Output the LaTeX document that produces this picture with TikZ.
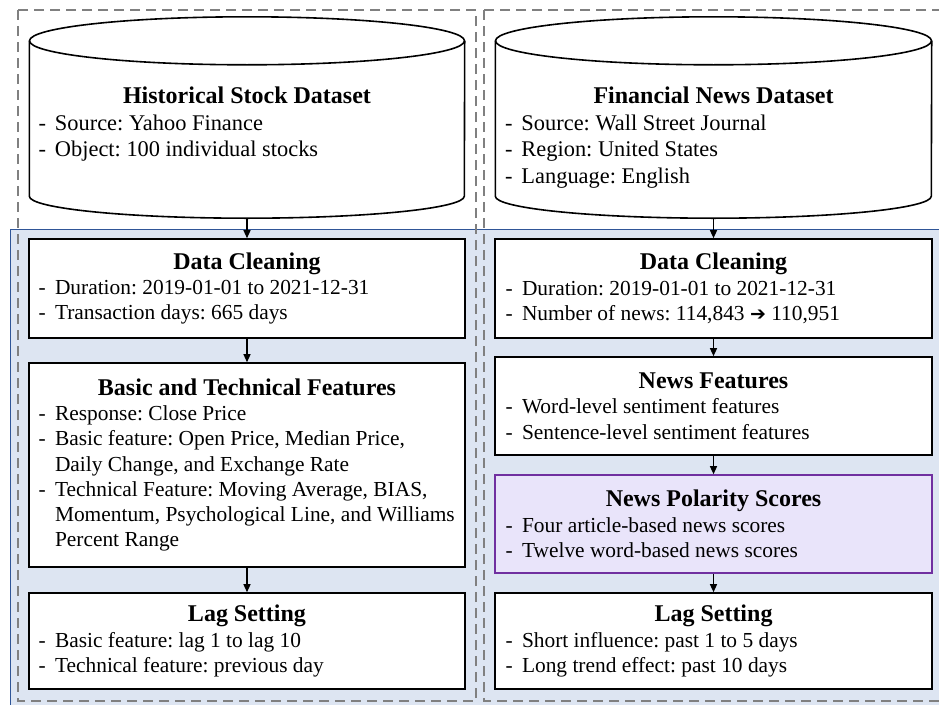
\documentclass[tikz,border=0pt]{standalone}
\usepackage{fontspec}
\setmainfont{Liberation Serif}
\newfontfamily\symfont{DejaVu Sans}
\usetikzlibrary{arrows.meta}
\definecolor{panelfill}{RGB}{221,229,242}
\definecolor{panelborder}{RGB}{47,85,151}
\definecolor{dashgray}{RGB}{128,128,128}
\definecolor{polfill}{RGB}{233,228,250}
\definecolor{polborder}{RGB}{112,48,160}
\frenchspacing
\newcommand{\ttl}[1]{\makebox[\hsize][c]{\fontsize{24}{27}\selectfont\bfseries #1}}
\newcommand{\itm}{\makebox[16.5pt][l]{-}}
\newcommand{\hng}{\hspace*{16.5pt}}
\tikzset{
  boxnode/.style={draw=black, line width=1.6pt, fill=white, text width=417pt,
    inner xsep=9.5pt, inner ysep=0pt, align=flush left,
    font=\fontsize{21.4}{25.3}\selectfont},
  polnode/.style={boxnode, draw=polborder, fill=polfill},
  cylbody/.style={minimum width=435pt, minimum height=155pt, inner sep=0pt},
  cyltext/.style={text width=417pt, inner xsep=9pt, inner ysep=0pt, align=flush left,
    anchor=north, font=\fontsize{22.4}{26.5}\selectfont},
  cylline/.style={draw=black, line width=1.6pt, fill=white},
  dashbox/.style={draw=dashgray, line width=1.8pt, dash pattern=on 10pt off 6pt},
  arr/.style={draw=black, line width=1.3pt, -{Triangle[length=8pt,width=7pt]}}
}
\begin{document}
\begin{tikzpicture}[x=1pt,y=-1pt]
\useasboundingbox (0,0) rectangle (939,704);
\clip (0,0) rectangle (939,704);
% panel
\fill[panelfill] (10,229) rectangle (960,720);
\draw[panelborder, line width=1pt] (10,720) -- (10,229) -- (960,229);
% dashed groups
\draw[dashbox] (18,10) rectangle (476,701);
\draw[dashbox] (484,10) rectangle (942,701);

% cylinders
\node[cylbody] (hsd) at (247,118.5) {};
\filldraw[cylline] (hsd.north west) -- (hsd.south west)
   arc[start angle=180, end angle=360, x radius=217.5pt, y radius=22pt]
   -- (hsd.north east);
\filldraw[cylline] (hsd.north) ellipse [x radius=217.5pt, y radius=24pt];
\coordinate (hsdB) at ([yshift=-22pt]hsd.south);
\node[cyltext] (hsdT) at (247,87) {\ttl{Historical Stock Dataset}\\
\itm Source: Yahoo Finance\\
\itm Object: 100 individual stocks};

\node[cylbody, minimum width=436pt] (fnd) at (713.5,118.5) {};
\filldraw[cylline] (fnd.north west) -- (fnd.south west)
   arc[start angle=180, end angle=360, x radius=218pt, y radius=22pt]
   -- (fnd.north east);
\filldraw[cylline] (fnd.north) ellipse [x radius=218pt, y radius=24pt];
\coordinate (fndB) at ([yshift=-22pt]fnd.south);
\node[cyltext] (fndT) at (713.5,87) {\ttl{Financial News Dataset}\\
\itm Source: Wall Street Journal\\
\itm Region: United States\\
\itm Language: English};

% left column
\node[boxnode, minimum height=99pt] (dcL) at (247,288.5) {\ttl{Data Cleaning}\\
\itm Duration: 2019-01-01 to 2021-12-31\\
\itm Transaction days: 665 days};
\node[boxnode, minimum height=204pt] (btL) at (247,465) {\ttl{Basic and Technical Features}\\
\itm Response: Close Price\\
\itm Basic feature: Open Price, Median Price,\\
\hng Daily Change, and Exchange Rate\\
\itm Technical Feature: Moving Average, BIAS,\\
\hng Momentum, Psychological Line, and Williams\\
\hng Percent Range};
\node[boxnode, minimum height=96pt] (lagL) at (247,641) {\ttl{Lag Setting}\\
\itm Basic feature: lag 1 to lag 10\\
\itm Technical feature: previous day};

% right column
\node[boxnode, text width=416pt, inner xsep=10.5pt, minimum height=99pt] (dcR) at (713.5,288.5) {\ttl{Data Cleaning}\\
\itm Duration: 2019-01-01 to 2021-12-31\\
\itm Number of news: 114,843 {\symfont\fontsize{19}{22}\selectfont ➔} 110,951};
\node[boxnode, text width=416pt, inner xsep=10.5pt, minimum height=98pt] (nfR) at (713.5,406) {\ttl{News Features}\\
\itm Word-level sentiment features\\
\itm Sentence-level sentiment features};
\node[polnode, text width=416pt, inner xsep=10.5pt, minimum height=98pt] (npR) at (713.5,524) {\ttl{News Polarity Scores}\\
\itm Four article-based news scores\\
\itm Twelve word-based news scores};
\node[boxnode, text width=416pt, inner xsep=10.5pt, minimum height=96pt] (lagR) at (713.5,641) {\ttl{Lag Setting}\\
\itm Short influence: past 1 to 5 days\\
\itm Long trend effect: past 10 days};

% connectors
\draw[arr] (hsdB) -- (dcL);
\draw[arr] (dcL) -- (btL);
\draw[arr] (btL) -- (lagL);
\draw[arr] (fndB) -- (dcR);
\draw[arr] (dcR) -- (nfR);
\draw[arr] (nfR) -- (npR);
\draw[arr] (npR) -- (lagR);
\end{tikzpicture}
\end{document}
